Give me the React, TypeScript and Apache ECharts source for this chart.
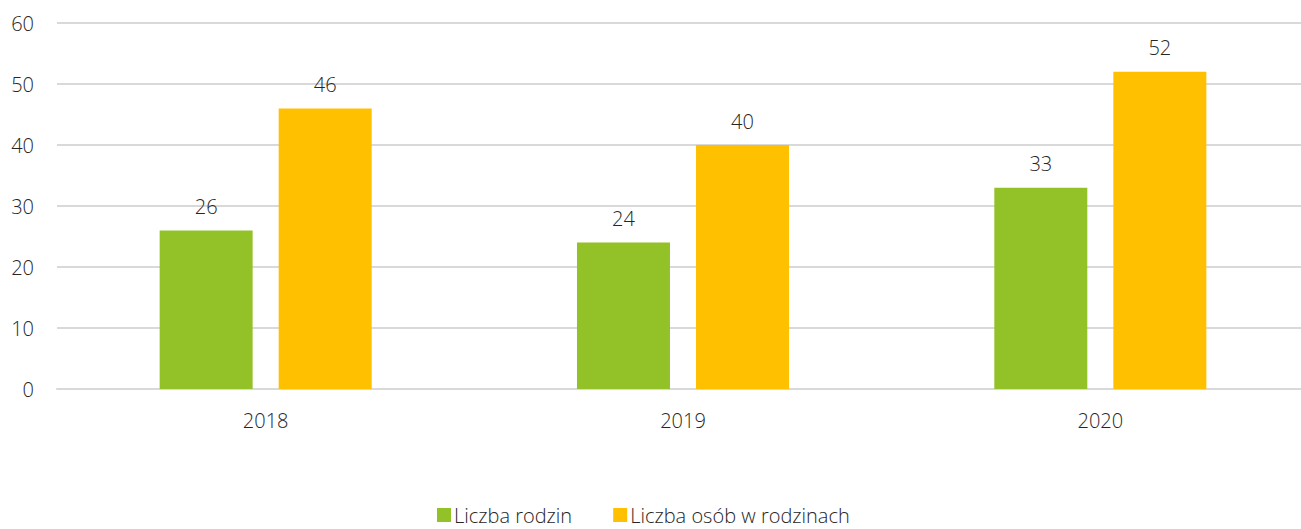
import React, { useEffect, useRef } from "react";
import * as echarts from "echarts";

const categories = ["2018", "2019", "2020"];
const families = [26, 24, 33];
const persons = [46, 40, 52];
const seriesNames = ["Liczba rodzin", "Liczba osób w rodzinach"];

export default function App() {
  const ref = useRef<HTMLDivElement>(null);
  useEffect(() => {
    const chart = echarts.init(ref.current!, null, { renderer: "svg" });
    const font = "'Open Sans', 'Noto Sans', sans-serif";
    const txt = "#262626";
    chart.setOption({
      animation: false,
      textStyle: { fontFamily: font },
      grid: { left: 57, top: 23, width: 1252, height: 366, containLabel: false },
      legend: {
        top: 503,
        left: 437,
        padding: 0,
        itemWidth: 14,
        itemHeight: 14,
        itemGap: 41,
        icon: "rect",
        textStyle: { fontSize: 20, lineHeight: 24, color: txt, fontFamily: font, fontWeight: 300, padding: [0, 0, 0, -2] },
        data: seriesNames,
      },
      xAxis: {
        type: "category",
        data: categories,
        axisLine: { lineStyle: { color: "#D9D9D9", width: 2 } },
        axisTick: { show: false },
        axisLabel: { color: txt, fontSize: 20, fontWeight: 300, margin: 21, fontFamily: font },
      },
      yAxis: {
        type: "value",
        min: 0,
        max: 60,
        interval: 10,
        splitLine: { lineStyle: { color: "#D9D9D9", width: 2 } },
        axisLine: { show: false },
        axisLabel: { color: txt, fontSize: 20, fontWeight: 300, margin: 23, fontFamily: font },
      },
      series: [
        {
          name: seriesNames[0],
          type: "bar",
          data: families,
          barWidth: 93,
          barGap: "28%",
          itemStyle: { color: "#92C227" },
          label: { show: true, position: "top", distance: 14, color: txt, fontSize: 20, fontWeight: 300, fontFamily: font },
        },
        {
          name: seriesNames[1],
          type: "bar",
          data: persons,
          barWidth: 93,
          itemStyle: { color: "#FFC000" },
          label: { show: true, position: "top", distance: 14, color: txt, fontSize: 20, fontWeight: 300, fontFamily: font },
        },
      ],
    });
    return () => chart.dispose();
  }, []);
  return (
    <div style={{ position: "absolute", left: 0, top: 0, width: 1301, height: 529, overflow: "hidden" }}>
      <div ref={ref} style={{ width: 1320, height: 529 }} />
    </div>
  );
}
